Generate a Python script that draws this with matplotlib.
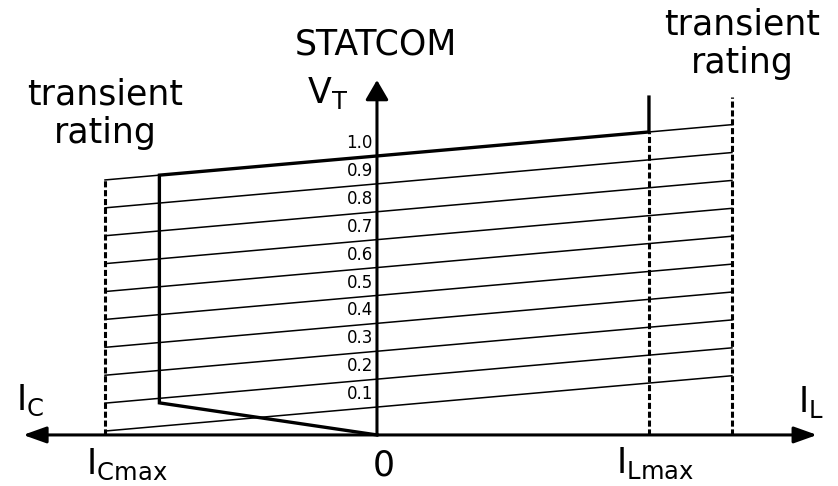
import numpy as np
import matplotlib
matplotlib.use("Agg")
import matplotlib.pyplot as plt

# V-I characteristic of a STATCOM (per-unit)
voltage_levels = [0.1, 0.2, 0.3, 0.4, 0.5, 0.6, 0.7, 0.8, 0.9, 1.0]
level_labels = ["0.1", "0.2", "0.3", "0.4", "0.5", "0.6", "0.7", "0.8", "0.9", "1.0"]
droop = 0.086              # slope of each constant-voltage line

i_cmax = -1.0              # capacitive transient limit
i_cont = -0.8              # capacitive continuous limit
i_lmax = 1.0               # inductive continuous limit
i_ltrans = 1.305           # inductive transient limit
v_knee = 0.115             # low-voltage corner of the operating area
v_top = 1.211              # top of the inductive limit lines

plt.rcParams['font.family'] = ['DejaVu Sans']
plt.rcParams['mathtext.fontset'] = 'dejavusans'

fig = plt.figure(figsize=(8.38, 4.86), dpi=100)
ax = fig.add_axes([0, 0, 1, 1])
ax.set_xlim(-1.386, 1.695)
ax.set_ylim(-0.183, 1.559)
ax.axis('off')

# family of constant-voltage lines between the transient limits
i_span = np.array([i_cmax, i_ltrans])
for v in voltage_levels:
    ax.plot(i_span, v + droop * i_span, color='black', lw=1.1)

# level labels next to the vertical axis
for v, lab in zip(voltage_levels, level_labels):
    ax.text(-0.015, v + 0.014, lab, ha='right', va='bottom', fontsize=12)

# dashed limit lines
dash = dict(color='black', lw=2.2, linestyle=(0, (2.0, 0.9)))
ax.plot([i_cmax, i_cmax], [0, 1.0 + droop * i_cmax], **dash)
ax.plot([i_lmax, i_lmax], [0, 1.0 + droop * i_lmax], **dash)
ax.plot([i_ltrans, i_ltrans], [0, v_top], **dash)

# operating area boundary (bold)
path_i = [0, i_cont, i_cont, i_lmax, i_lmax]
path_v = [0, v_knee, 1.0 + droop * i_cont, 1.0 + droop * i_lmax, v_top]
ax.plot(path_i, path_v, color='black', lw=2.4, solid_joinstyle='miter')

# axes with arrows
ax.annotate('', xy=(-1.301, 0), xytext=(1.618, 0),
            arrowprops=dict(arrowstyle='<|-|>,head_length=14,head_width=5',
                            mutation_scale=1, lw=2.2, color='black',
                            shrinkA=0, shrinkB=0))
ax.annotate('', xy=(0, 1.272), xytext=(0, 0),
            arrowprops=dict(arrowstyle='-|>,head_length=12,head_width=7',
                            mutation_scale=1, lw=2.2, color='black',
                            shrinkA=0, shrinkB=0))

big = 25
ax.text(-0.004, 1.362, "STATCOM", ha='center', va='baseline', fontsize=big)
ax.text(-1.0, 1.183, "transient", ha='center', va='baseline', fontsize=big)
ax.text(-1.0, 1.047, "rating", ha='center', va='baseline', fontsize=big)
ax.text(1.342, 1.434, "transient", ha='center', va='baseline', fontsize=big)
ax.text(1.342, 1.297, "rating", ha='center', va='baseline', fontsize=big)
ax.text(-0.18, 1.19, r"V$_{\mathrm{T}}$", ha='center', va='baseline', fontsize=big)
ax.text(-1.276, 0.09, r"I$_{\mathrm{C}}$", ha='center', va='baseline', fontsize=big)
ax.text(1.596, 0.082, r"I$_{\mathrm{L}}$", ha='center', va='baseline', fontsize=big)
ax.text(-0.919, -0.140, r"I$_{\mathrm{Cmax}}$", ha='center', va='baseline', fontsize=big)
ax.text(1.022, -0.136, r"I$_{\mathrm{Lmax}}$", ha='center', va='baseline', fontsize=big)
ax.text(0.026, -0.147, "0", ha='center', va='baseline', fontsize=big)

fig.savefig("out.png", dpi=100)
